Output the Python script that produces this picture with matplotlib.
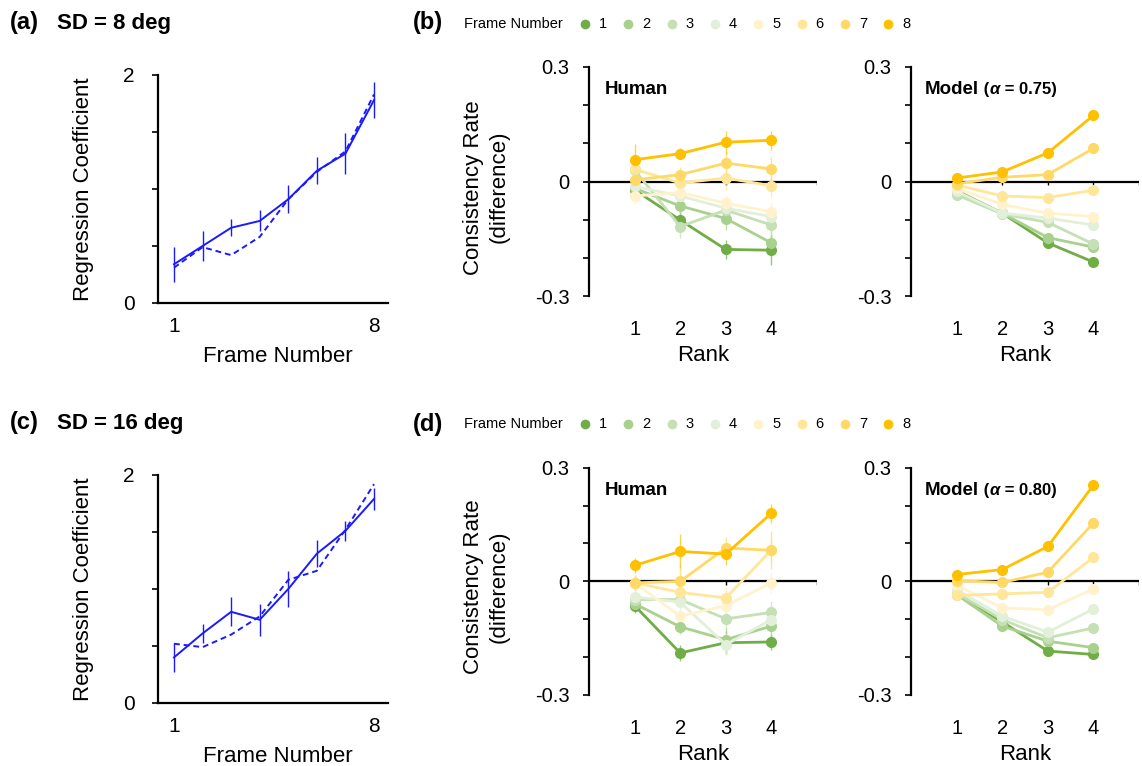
import numpy as np
import matplotlib
matplotlib.use("Agg")
import matplotlib.pyplot as plt
from matplotlib.lines import Line2D

plt.rcParams['font.family'] = ['Liberation Sans', 'DejaVu Sans']

W, H = 1142, 766

# ---------------- data ----------------
frames = [1, 2, 3, 4, 5, 6, 7, 8]
ranks = [1, 2, 3, 4]
frame_colors = ['#70ad47', '#a9d18e', '#c5e0b4', '#e2f0d9',
                '#fff2cc', '#ffe699', '#ffd966', '#ffc000']

# Panel (a): SD = 8 deg
a_solid = [0.34, 0.50, 0.66, 0.72, 0.91, 1.16, 1.31, 1.78]
a_solid_err = [0.155, 0.13, 0.073, 0.092, 0.124, 0.118, 0.18, 0.156]
a_dashed = [0.31, 0.49, 0.42, 0.58, 0.91, 1.15, 1.33, 1.83]

# Panel (c): SD = 16 deg
c_solid = [0.40, 0.61, 0.80, 0.73, 1.00, 1.31, 1.51, 1.79]
c_solid_err = [0.126, 0.085, 0.127, 0.14, 0.16, 0.12, 0.088, 0.10]
c_dashed = [0.52, 0.49, 0.60, 0.76, 1.08, 1.16, 1.52, 1.92]

# Panel (b) Human (rows = frame 1..8, cols = rank 1..4)
b_human = [
    [-0.022, -0.101, -0.178, -0.180],
    [-0.018, -0.064, -0.097, -0.161],
    [0.030, -0.118, -0.075, -0.114],
    [-0.013, -0.038, -0.070, -0.092],
    [-0.038, -0.029, -0.057, -0.079],
    [0.032, -0.004, 0.009, -0.011],
    [0.004, 0.018, 0.048, 0.033],
    [0.057, 0.073, 0.103, 0.108],
]
b_human_err = [
    [0.015, 0.020, 0.025, 0.040],
    [0.020, 0.020, 0.030, 0.030],
    [0.020, 0.030, 0.030, 0.030],
    [0.020, 0.020, 0.030, 0.030],
    [0.020, 0.020, 0.025, 0.025],
    [0.020, 0.020, 0.030, 0.030],
    [0.020, 0.020, 0.030, 0.030],
    [0.040, 0.015, 0.030, 0.025],
]
# Panel (b) Model
b_model = [
    [-0.024, -0.083, -0.161, -0.211],
    [-0.031, -0.083, -0.147, -0.172],
    [-0.035, -0.085, -0.107, -0.164],
    [-0.026, -0.083, -0.096, -0.114],
    [-0.018, -0.060, -0.083, -0.092],
    [-0.009, -0.038, -0.042, -0.023],
    [-0.006, 0.011, 0.018, 0.087],
    [0.009, 0.025, 0.075, 0.173],
]

# Panel (d) Human
d_human = [
    [-0.064, -0.189, -0.162, -0.160],
    [-0.059, -0.120, -0.154, -0.118],
    [-0.048, -0.048, -0.099, -0.082],
    [-0.041, -0.055, -0.167, -0.101],
    [-0.004, -0.092, -0.064, -0.004],
    [-0.004, -0.029, -0.044, 0.083],
    [-0.004, 0.000, 0.088, 0.082],
    [0.042, 0.079, 0.072, 0.180],
]
d_human_err = [
    [0.020, 0.020, 0.030, 0.020],
    [0.020, 0.020, 0.030, 0.030],
    [0.020, 0.020, 0.030, 0.030],
    [0.020, 0.020, 0.030, 0.030],
    [0.020, 0.020, 0.030, 0.030],
    [0.020, 0.020, 0.030, 0.030],
    [0.020, 0.045, 0.030, 0.050],
    [0.020, 0.045, 0.030, 0.025],
]
# Panel (d) Model
d_model = [
    [-0.033, -0.107, -0.184, -0.193],
    [-0.035, -0.118, -0.158, -0.175],
    [-0.031, -0.101, -0.149, -0.123],
    [-0.022, -0.092, -0.134, -0.073],
    [-0.010, -0.070, -0.075, -0.020],
    [-0.037, -0.033, -0.029, 0.063],
    [0.002, -0.003, 0.024, 0.154],
    [0.018, 0.031, 0.092, 0.254],
]

# ---------------- figure ----------------
fig = plt.figure(figsize=(W / 100, H / 100), dpi=100)


def fx(px):
    return px / W


def fy(py):
    return 1 - py / H


def add_axes_px(left, top, right, bottom):
    return fig.add_axes([fx(left), fy(bottom), fx(right - left), (bottom - top) / H])


def regression_panel(ax, solid, err, dashed):
    x = np.arange(1, len(solid) + 1)
    ax.errorbar(x, solid, yerr=err, color='#1a1aff', lw=1.4, elinewidth=1.0,
                capsize=0)
    ax.plot(x, dashed, color='#1a1aff', lw=1.4, ls=(0, (3, 2)))
    ax.set_xlim(0.44, 8.49)
    ax.set_ylim(0, 2)
    ax.set_yticks([0, 0.5, 1, 1.5, 2])
    ax.set_yticklabels(['0', '', '', '', '2'])
    ax.set_xticks([1, 8])
    ax.set_xticklabels(['1', '8'])
    for s in ['top', 'right']:
        ax.spines[s].set_visible(False)
    for s in ['left', 'bottom']:
        ax.spines[s].set_linewidth(1.6)
    ax.tick_params(axis='y', length=4, width=1.2, labelsize=15, pad=13)
    ax.tick_params(axis='x', length=0, labelsize=15, pad=10)
    ax.set_ylabel('Regression Coefficient', fontsize=16)
    ax.yaxis.set_label_coords(-0.28, 0.5)
    ax.set_xlabel('Frame Number', fontsize=16)
    ax.xaxis.set_label_coords(0.52, -0.19)


def consistency_panel(ax, data, err=None, ylabel=True):
    for i, f in enumerate(frames):
        if err is not None:
            ax.errorbar(ranks, data[i], yerr=err[i], fmt='none',
                        ecolor=frame_colors[i], elinewidth=1.0, alpha=0.7,
                        capsize=0, zorder=2)
        ax.plot(ranks, data[i], color=frame_colors[i], lw=2.0, marker='o',
                ms=7, zorder=3)
    ax.set_xlim(0, 5)
    ax.set_ylim(-0.3, 0.3)
    ax.axhline(0, color='black', lw=1.6, zorder=1)
    tick_x = np.arange(1, 6)
    ax.vlines(tick_x, -0.009, 0, color='black', lw=1.0, zorder=1)
    ax.set_yticks([-0.3, -0.2, -0.1, 0, 0.1, 0.2, 0.3])
    ax.set_yticklabels(['-0.3', '', '', '0', '', '', '0.3'])
    ax.set_xticks(ranks)
    ax.set_xticklabels([str(r) for r in ranks])
    for s in ['top', 'right', 'bottom']:
        ax.spines[s].set_visible(False)
    ax.spines['left'].set_linewidth(1.6)
    ax.tick_params(axis='y', length=4, width=1.2, labelsize=14.5, pad=10)
    ax.tick_params(axis='x', length=0, labelsize=14.5, pad=17)
    ax.set_xlabel('Rank', fontsize=16)
    ax.xaxis.set_label_coords(0.5, -0.215)
    if ylabel:
        ax.set_ylabel('Consistency Rate\n(difference)', fontsize=16,
                      linespacing=1.3)
        ax.yaxis.set_label_coords(-0.346, 0.475)


def model_title(ax, alpha_txt):
    t1 = ax.text(0.061, 0.90, 'Model', transform=ax.transAxes, fontsize=13.5,
                 fontweight='bold', va='center', ha='left')
    t2 = ax.annotate(' (', xy=(1, 0.5), xycoords=t1, va='center', ha='left',
                     fontsize=12, fontweight='bold')
    t3 = ax.annotate('α', xy=(1, 0.5), xycoords=t2, va='center', ha='left',
                     fontsize=12, fontweight='bold', fontstyle='italic')
    ax.annotate(' = ' + alpha_txt + ')', xy=(1, 0.5), xycoords=t3,
                va='center', ha='left', fontsize=12, fontweight='bold')


def legend_row(py):
    fig.text(fx(464), fy(py), 'Frame Number', fontsize=10.5, va='center',
             ha='left')
    for i, f in enumerate(frames):
        mx = 585 + 43.3 * i
        fig.add_artist(Line2D([fx(mx)], [fy(py)], marker='o', ms=6,
                              color=frame_colors[i], lw=0,
                              transform=fig.transFigure))
        fig.text(fx(mx + 14), fy(py), str(f), fontsize=10.5, va='center',
                 ha='left')


# ---- (a) ----
ax_a = add_axes_px(158, 75, 388, 303)
regression_panel(ax_a, a_solid, a_solid_err, a_dashed)
fig.text(fx(10), fy(22), '(a)', fontsize=17, fontweight='bold', va='center')
fig.text(fx(57), fy(23), 'SD = 8 deg', fontsize=16, fontweight='bold',
         va='center')

# ---- (c) ----
ax_c = add_axes_px(158, 475, 388, 703)
regression_panel(ax_c, c_solid, c_solid_err, c_dashed)
fig.text(fx(10), fy(422), '(c)', fontsize=17, fontweight='bold', va='center')
fig.text(fx(57), fy(423), 'SD = 16 deg', fontsize=16, fontweight='bold',
         va='center')

# ---- (b) ----
fig.text(fx(413), fy(23), '(b)', fontsize=17, fontweight='bold', va='center')
legend_row(24)
ax_bh = add_axes_px(589, 67, 817, 296)
consistency_panel(ax_bh, b_human, b_human_err, ylabel=True)
ax_bh.text(0.07, 0.90, 'Human', transform=ax_bh.transAxes, fontsize=13.5,
           fontweight='bold', va='center', ha='left')
ax_bm = add_axes_px(911, 67, 1139, 296)
consistency_panel(ax_bm, b_model, None, ylabel=False)
model_title(ax_bm, '0.75')

# ---- (d) ----
fig.text(fx(413), fy(424), '(d)', fontsize=17, fontweight='bold', va='center')
legend_row(424)
ax_dh = add_axes_px(589, 467.7, 817, 695)
consistency_panel(ax_dh, d_human, d_human_err, ylabel=True)
ax_dh.text(0.07, 0.90, 'Human', transform=ax_dh.transAxes, fontsize=13.5,
           fontweight='bold', va='center', ha='left')
ax_dm = add_axes_px(911, 467.7, 1139, 695)
consistency_panel(ax_dm, d_model, None, ylabel=False)
model_title(ax_dm, '0.80')

fig.savefig('out.png', dpi=100)
